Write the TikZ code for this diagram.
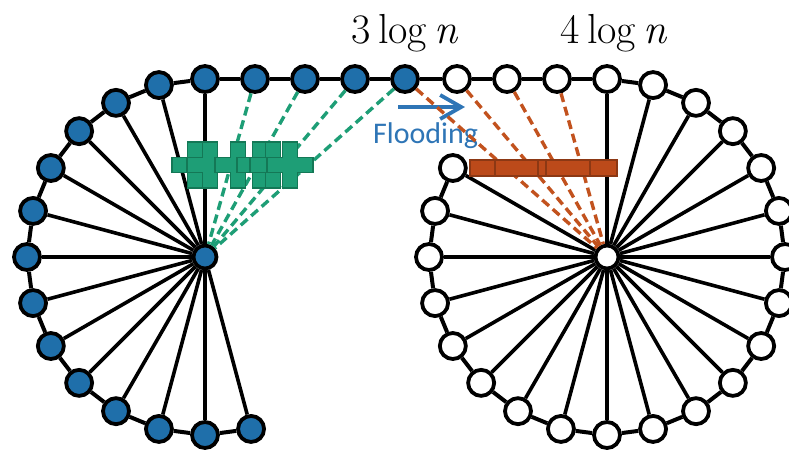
\documentclass[tikz,border=0pt]{standalone}
\usepackage{fontspec}
\newfontfamily\flfont{Carlito}
\usetikzlibrary{arrows.meta}
\definecolor{nblue}{RGB}{31,111,170}
\definecolor{fblue}{RGB}{46,117,182}
\definecolor{ngreen}{RGB}{30,158,118}
\definecolor{dgreen}{RGB}{20,120,86}
\definecolor{norange}{RGB}{194,82,30}
\definecolor{barfill}{RGB}{188,74,26}
\definecolor{barline}{RGB}{140,56,20}
\begin{document}
\begin{tikzpicture}[x=1pt,y=-1pt,
  vtx/.style={circle,draw=black,line width=3.8pt,minimum size=26pt,inner sep=0pt},
  bv/.style={vtx,fill=nblue},
  wv/.style={vtx,fill=white},
  cv/.style={minimum size=23pt},
  ring/.style={line width=4pt},
  spoke/.style={line width=3.6pt},
  gdash/.style={draw=ngreen,line width=3.4pt,dash pattern=on 9pt off 5pt},
  odash/.style={draw=norange,line width=3.4pt,dash pattern=on 9pt off 5pt},
  crossst/.style={fill=ngreen,draw=dgreen,line width=1.8pt},
  barst/.style={fill=barfill,draw=barline,line width=1.6pt},
  lbl/.style={anchor=base,inner sep=0pt,font=\fontsize{42}{48}\selectfont}]
\useasboundingbox (0,0) rectangle (789,451);
% labels
\node[lbl] (lab3) at (405,43) {3\,log\,\textit{n}};
\node[lbl] (lab4) at (614,43) {4\,log\,\textit{n}};
% left wheel
\node[bv,cv] (lc) at (205,257) {};
\foreach \a [count=\i] in {90,105,...,285}
  \node[bv] (l\i) at ({205+178*cos(\a)},{257-178*sin(\a)}) {};
\foreach \x [count=\i] in {255,305,355,405}
  \node[bv] (t\i) at (\x,79) {};
% right wheel
\node[wv,cv] (rc) at (607,257) {};
\foreach \a [count=\i] in {90,75,...,-210}
  \node[wv] (r\i) at ({607+178*cos(\a)},{257-178*sin(\a)}) {};
\foreach \x [count=\i] in {457,507,557}
  \node[wv] (u\i) at (\x,79) {};
% ring edges
\foreach \i [remember=\i as \lasti (initially 1)] in {2,...,14}
  \draw[ring] (l\lasti) -- (l\i);
\foreach \i [remember=\i as \lasti (initially 1)] in {2,...,21}
  \draw[ring] (r\lasti) -- (r\i);
\draw[ring] (l1) -- (t1) -- (t2) -- (t3) -- (t4) -- (u1) -- (u2) -- (u3) -- (r1);
% spokes
\foreach \i in {1,...,14} \draw[spoke] (lc) -- (l\i);
\foreach \i in {1,...,21} \draw[spoke] (rc) -- (r\i);
% flooding
\node[anchor=base west,text=fblue,inner sep=0pt,font=\flfont\fontsize{30}{36}\selectfont] (fl) at (373,143) {Flooding};
\coordinate (fa) at (398,107);
\coordinate (fb) at (465,107);
\draw[draw=fblue,line width=3.8pt,-{Straight Barb[length=21pt,width=24pt]}] (fa) -- (fb);
% dashed
\foreach \i in {1,...,4} \draw[gdash] (t\i) -- (lc);
\draw[odash] (t4) -- (rc);
\foreach \i in {1,...,3} \draw[odash] (u\i) -- (rc);
% crosses
\foreach \cx in {195,210,238,260,273,290}
  \draw[crossst] (\cx-7.5,142) -- (\cx+7.5,142) -- (\cx+7.5,157.5) -- (\cx+23,157.5) -- (\cx+23,172.5) -- (\cx+7.5,172.5) -- (\cx+7.5,188) -- (\cx-7.5,188) -- (\cx-7.5,172.5) -- (\cx-23,172.5) -- (\cx-23,157.5) -- (\cx-7.5,157.5) -- cycle;
% bar
\draw[barst] (470,160) rectangle (617,176);
\foreach \x in {495,538,546,590} \draw[draw=barline,line width=1.6pt] (\x,160) -- (\x,176);
\end{tikzpicture}
\end{document}
